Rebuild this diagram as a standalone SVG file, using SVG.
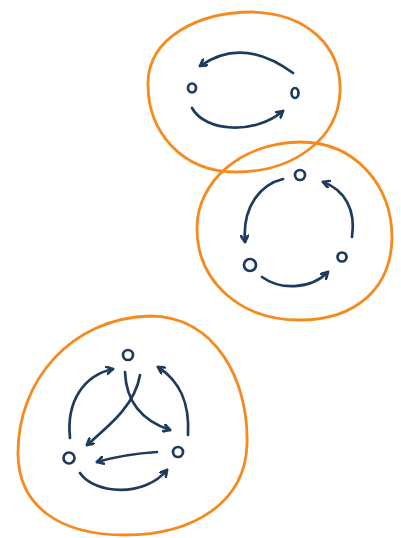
<svg xmlns="http://www.w3.org/2000/svg" width="401" height="538" viewBox="0 0 401 538">
<style>
.blob{fill:none;stroke:#F58A1F;stroke-width:2.8;stroke-linejoin:round}
.node{fill:none;stroke:#1E3A5C;stroke-width:2.7}
.edge{fill:none;stroke:#1E3A5C;stroke-width:2.7;stroke-linecap:round;marker-end:url(#arr)}
</style>
<defs>
<marker id="arr" viewBox="0 0 10 10" refX="8" refY="5" markerWidth="9" markerHeight="9" markerUnits="userSpaceOnUse" orient="auto">
<path d="M1,1 L8,5 L1,9" fill="none" stroke="#1E3A5C" stroke-width="3" stroke-linecap="round" stroke-linejoin="round"/>
</marker>
</defs>
<rect width="401" height="538" fill="#fff"/>
<g id="clusters">
<path id="cluster1" class="blob" d="M148,82 C149,38 198,12 252,12 C306,13 342,46 340,92 C338,140 292,172 236,172 C182,172 147,132 148,82 Z"/>
<path id="cluster2" class="blob" d="M197,230 C196,180 243,143 300,142 C356,142 392,186 392,238 C391,289 355,320 300,320 C240,320 198,282 197,230 Z"/>
<path id="cluster3" class="blob" d="M18,455 C17,380 72,318 150,316 C215,316 249,380 247,445 C245,502 194,535 125,535 C58,535 19,505 18,455 Z"/>
</g>
<g id="connectors">
<path class="edge" d="M293,73 Q243,36 200,66"/>
<path class="edge" d="M192,108 C205,132 255,135 283,111"/>
<path class="edge" d="M283,179 C262,184 242,205 245,242"/>
<path class="edge" d="M352,237 C356,210 345,190 323,182"/>
<path class="edge" d="M262,277 C280,290 310,290 328,272"/>
<path class="edge" d="M70,438 C66,400 85,375 113,369"/>
<path class="edge" d="M188,435 C190,400 178,380 158,367"/>
<path class="edge" d="M125,372 C126,400 140,420 170,430"/>
<path class="edge" d="M140,375 C135,405 110,425 87,445"/>
<path class="edge" d="M157,452 Q125,454 97,462"/>
<path class="edge" d="M80,473 C95,495 145,497 167,470"/>
</g>
<g id="n1"><ellipse class="node" cx="192" cy="88" rx="4" ry="4.5"/></g>
<g id="n2"><ellipse class="node" cx="295" cy="93" rx="3.5" ry="5"/></g>
<g id="n3"><circle class="node" cx="300" cy="175" r="5"/></g>
<g id="n4"><circle class="node" cx="250" cy="265" r="6"/></g>
<g id="n5"><circle class="node" cx="342" cy="257" r="4.5"/></g>
<g id="n6"><circle class="node" cx="128" cy="355" r="5"/></g>
<g id="n7"><circle class="node" cx="69" cy="458" r="5.5"/></g>
<g id="n8"><circle class="node" cx="178" cy="452" r="5"/></g>
</svg>
